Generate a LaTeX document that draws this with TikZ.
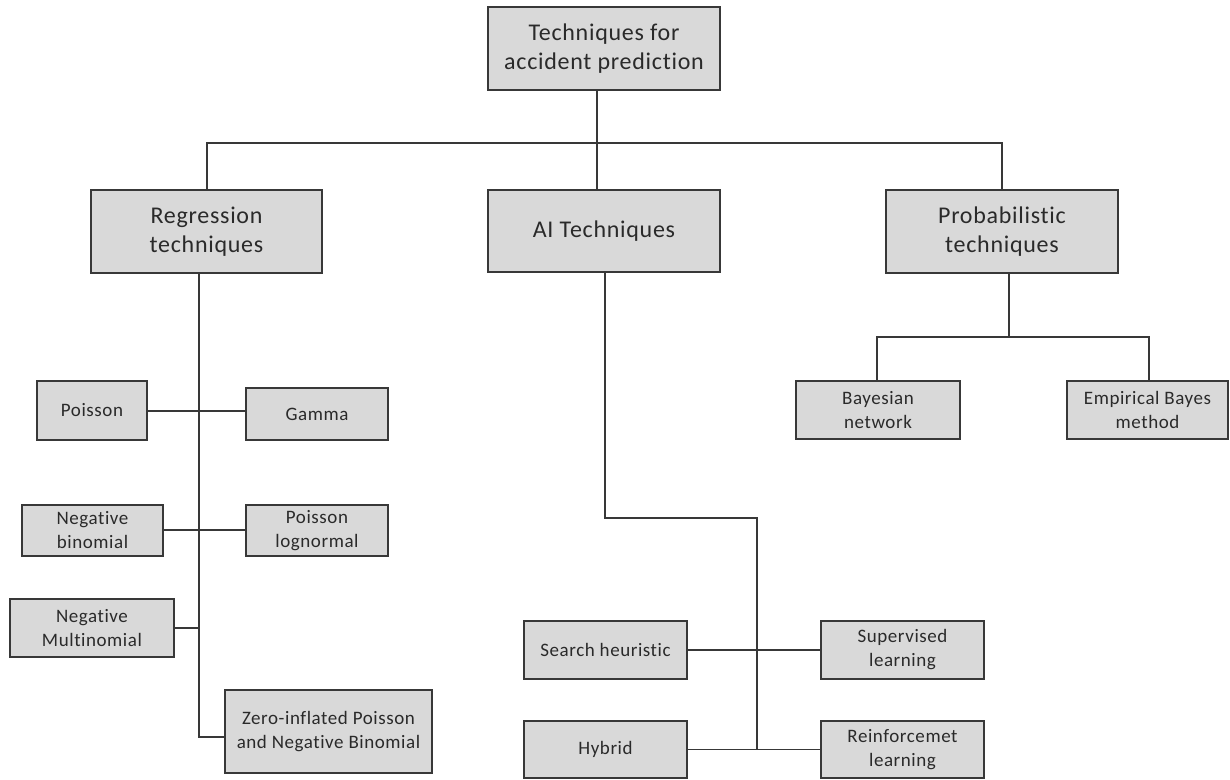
\documentclass[tikz,border=0pt]{standalone}
\usepackage{fontspec}
\setmainfont[Ligatures=NoCommon, LetterSpace=3]{Carlito}
\definecolor{boxfill}{HTML}{D9D9D9}
\definecolor{boxline}{HTML}{383838}
\definecolor{textcol}{HTML}{2A2A2A}
\tikzset{
  basebox/.style={draw=boxline, fill=boxfill, line width=2pt, rectangle,
    inner sep=0pt, align=center, text=textcol},
  bigbox/.style={basebox, font=\fontsize{24}{29}\selectfont},
  smallbox/.style={basebox, font=\fontsize{19}{24}\selectfont},
  link/.style={draw=boxline, line width=1.8pt}
}
\begin{document}
\begin{tikzpicture}[x=1pt,y=-1pt]
\useasboundingbox (0,0) rectangle (1230,779);

% main levels
\node[bigbox, minimum width=232pt, minimum height=83pt] (top) at (604,48.5) {Techniques for\\accident prediction};
\node[bigbox, minimum width=231pt, minimum height=83pt] (reg) at (206.5,231.5) {Regression\\techniques};
\node[bigbox, minimum width=232pt, minimum height=82pt] (ai) at (604,231) {AI Techniques};
\node[bigbox, minimum width=232pt, minimum height=83pt] (pro) at (1002,231.5) {Probabilistic\\techniques};

% regression family
\node[smallbox, minimum width=110pt, minimum height=59pt] (poisson) at (92,410.5) {Poisson};
\node[smallbox, minimum width=142pt, minimum height=52pt] (gamma) at (317,414) {Gamma};
\node[smallbox, minimum width=141pt, minimum height=51pt] (negbin) at (92.5,530.5) {Negative\\binomial};
\node[smallbox, minimum width=142pt, minimum height=51pt] (plog) at (317,530.5) {Poisson\\lognormal};
\node[smallbox, minimum width=164pt, minimum height=58pt] (negmult) at (92,628) {Negative\\Multinomial};
\node[smallbox, minimum width=207pt, minimum height=83pt] (zip) at (328.5,731.5) {Zero-inflated Poisson\\and Negative Binomial};

% AI family
\node[smallbox, minimum width=163pt, minimum height=58pt] (search) at (605.5,650) {Search heuristic};
\node[smallbox, minimum width=163pt, minimum height=58pt] (sup) at (902.5,650) {Supervised\\learning};
\node[smallbox, minimum width=163pt, minimum height=57pt] (hybrid) at (605.5,749.5) {Hybrid};
\node[smallbox, minimum width=163pt, minimum height=57pt] (reinf) at (902.5,749.5) {Reinforcemet\\learning};

% probabilistic family
\node[smallbox, minimum width=164pt, minimum height=58pt] (bayes) at (878,410) {Bayesian\\network};
\node[smallbox, minimum width=161pt, minimum height=58pt] (emp) at (1147.5,410) {Empirical Bayes\\method};

% junction points
\coordinate (busL) at (207,143);
\coordinate (busM) at (597,143);
\coordinate (busR) at (1002,143);
\coordinate (regx) at (199,0);
\coordinate (zipin) at (225,737);
\coordinate (aiBend) at (605,518);
\coordinate (aiRun) at (757,518);
\coordinate (aiEnd) at (757,749);
\coordinate (proJ) at (1009,337);
\coordinate (proL) at (877,337);
\coordinate (proR) at (1149,337);

% top bus
\draw[link] (top.south -| busM) -- (busM);
\draw[link] (reg.north -| busL) -- (busL) -- (busR) -- (pro.north -| busR);
\draw[link] (busM) -- (ai.north -| busM);

% regression trunk
\draw[link] (reg.south -| regx) -- (zipin -| regx) -- (zipin);
\draw[link] (poisson.east |- 0,411) -- (gamma.west |- 0,411);
\draw[link] (negbin.east |- 0,530) -- (plog.west |- 0,530);
\draw[link] (negmult.east) -- (negmult.east -| regx);

% AI trunk
\draw[link] (ai.south -| aiBend) -- (aiBend) -- (aiRun) -- (aiEnd);
\draw[link] (search.east) -- (sup.west);
\draw[link] (hybrid.east) -- (reinf.west);

% probabilistic trunk
\draw[link] (pro.south -| proJ) -- (proJ);
\draw[link] (bayes.north -| proL) -- (proL) -- (proR) -- (emp.north -| proR);
\end{tikzpicture}
\end{document}
